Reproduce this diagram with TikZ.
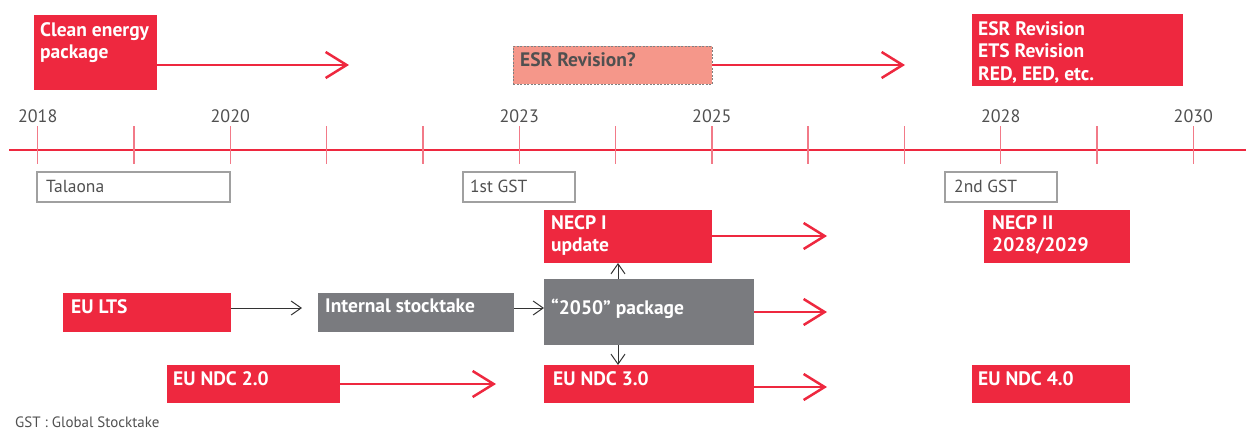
\documentclass[tikz,border=0pt]{standalone}
\usepackage{fontspec}
\setmainfont{PT Sans}
\usetikzlibrary{arrows.meta}
\definecolor{ered}{HTML}{EE283F}
\definecolor{etick}{HTML}{F27A88}
\definecolor{egray}{HTML}{7A7B7F}
\definecolor{esalmon}{HTML}{F5978A}
\definecolor{etext}{HTML}{505050}
\definecolor{eline}{HTML}{A0A0A0}
\tikzset{
  box/.style={anchor=north west, inner sep=0pt, outer sep=0pt},
  redbox/.style={box, fill=ered},
  graybox/.style={box, fill=egray},
  qbox/.style={box, fill=esalmon, draw=gray, line width=0.8pt, dash pattern=on 2pt off 1.5pt},
  obox/.style={box, fill=white, draw=eline, line width=1.2pt},
  lbl/.style={anchor=north west, inner sep=0pt, align=left, text=white,
    font=\bfseries\fontsize{19.5}{22.5}\selectfont},
  dlbl/.style={lbl, text=etext},
  olbl/.style={anchor=north west, inner sep=0pt, text=etext,
    font=\fontsize{17.5}{21}\selectfont},
  year/.style={anchor=base, inner sep=0pt, text=etext, font=\fontsize{18}{21}\selectfont},
  ra/.style={draw=ered, line width=2.5pt, -{Straight Barb[length=21pt, width=26pt]}},
  ba/.style={draw=black!80, line width=1pt, -{Straight Barb[length=10pt, width=14pt]}},
}
\begin{document}
\begin{tikzpicture}[x=1pt, y=-1pt]
\useasboundingbox (0,0) rectangle (1246,432);

% timeline
\draw[ered, line width=2.8pt] (9,150) -- (1246,150);
\foreach \i in {0,...,12} {
  \draw[etick, line width=1.4pt] ({37.7+96.3*\i},126) -- ({37.7+96.3*\i},164);
}
\node[year] (y2018) at (37.7,122) {2018};
\node[year] (y2020) at (230.3,122) {2020};
\node[year] (y2023) at (519.2,122) {2023};
\node[year] (y2025) at (711.8,122) {2025};
\node[year] (y2028) at (1000.7,122) {2028};
\node[year] (y2030) at (1193.3,122) {2030};

% top row
\node[redbox, minimum width=123pt, minimum height=75pt] (cep) at (34,15) {};
\node[lbl] (cept) at ([shift={(6pt,-7pt)}]cep.north west) {Clean energy\\package};
\coordinate (cepE) at (349,65);
\draw[ra] (cep.east |- cepE) -- (cepE);

\node[qbox, minimum width=199pt, minimum height=38pt] (esrq) at (513,46) {};
\node[dlbl] (esrqt) at ([shift={(7pt,-6pt)}]esrq.north west) {ESR Revision?};
\coordinate (esrqE) at (905,65);
\draw[ra] (esrq.east) -- (esrqE);

\node[redbox, minimum width=211pt, minimum height=72pt] (esr) at (972,14) {};
\node[lbl] (esrt) at ([shift={(6pt,-7pt)}]esr.north west) {ESR Revision\\ETS Revision\\RED, EED, etc.};

% outline boxes
\node[obox, minimum width=193pt, minimum height=30pt] (tal) at (37,172) {};
\node[olbl] (talt) at ([shift={(9pt,-8pt)}]tal.north west) {Talaona};
\node[obox, minimum width=112pt, minimum height=30pt] (gst1) at (463,172) {};
\node[olbl] (gst1t) at ([shift={(7pt,-8pt)}]gst1.north west) {1st GST};
\node[obox, minimum width=112pt, minimum height=30pt] (gst2) at (945,172) {};
\node[olbl] (gst2t) at ([shift={(9pt,-8pt)}]gst2.north west) {2nd GST};

% NECP row
\node[redbox, minimum width=168pt, minimum height=53pt] (necp1) at (544,210) {};
\node[lbl] (necp1t) at ([shift={(7pt,-5pt)}]necp1.north west) {NECP I\\update};
\coordinate (necp1E) at (827,236);
\draw[ra] (necp1.east |- necp1E) -- (necp1E);

\node[redbox, minimum width=146pt, minimum height=53pt] (necp2) at (984,210) {};
\node[lbl] (necp2t) at ([shift={(8pt,-5pt)}]necp2.north west) {NECP II\\2028/2029};

% middle row
\node[redbox, minimum width=168pt, minimum height=39pt] (lts) at (63,293) {};
\node[lbl] (ltst) at ([shift={(8pt,-6pt)}]lts.north west) {EU LTS};
\node[graybox, minimum width=196pt, minimum height=39pt] (ist) at (318,293) {};
\node[lbl] (istt) at ([shift={(7pt,-6pt)}]ist.north west) {Internal stocktake};
\node[graybox, minimum width=210pt, minimum height=66pt] (p2050) at (544,279) {};
\node[lbl] (p2050t) at ([shift={(7pt,-20pt)}]p2050.north west) {“2050” package};

\coordinate (ltsE) at (302,308);
\draw[ba] (lts.east |- ltsE) -- (ltsE);
\coordinate (istY) at (0,308);
\draw[ba] (ist.east |- istY) -- (p2050.west |- istY);
\coordinate (p2050E) at (827,312);
\draw[ra] (p2050.east |- p2050E) -- (p2050E);
\draw[ba] ([xshift=-31pt]p2050.north) -- ([xshift=-31pt]p2050.north |- necp1.south);

% bottom row
\node[redbox, minimum width=173pt, minimum height=38pt] (ndc2) at (167,365) {};
\node[lbl] (ndc2t) at ([shift={(6pt,-6pt)}]ndc2.north west) {EU NDC 2.0};
\coordinate (ndc2E) at (496,384);
\draw[ra] (ndc2.east |- ndc2E) -- (ndc2E);

\node[redbox, minimum width=210pt, minimum height=38pt] (ndc3) at (544,365) {};
\node[lbl] (ndc3t) at ([shift={(9pt,-6pt)}]ndc3.north west) {EU NDC 3.0};
\coordinate (ndc3E) at (827,387);
\draw[ra] (ndc3.east |- ndc3E) -- (ndc3E);
\draw[ba] ([xshift=-31pt]p2050.south) -- ([xshift=-31pt]p2050.south |- ndc3.north);

\node[redbox, minimum width=158pt, minimum height=38pt] (ndc4) at (972,365) {};
\node[lbl] (ndc4t) at ([shift={(6pt,-6pt)}]ndc4.north west) {EU NDC 4.0};

% footnote
\node[anchor=base west, inner sep=0pt, text=etext, font=\fontsize{15}{17}\selectfont] (foot) at (15,427) {GST : Global Stocktake};
\end{tikzpicture}
\end{document}
